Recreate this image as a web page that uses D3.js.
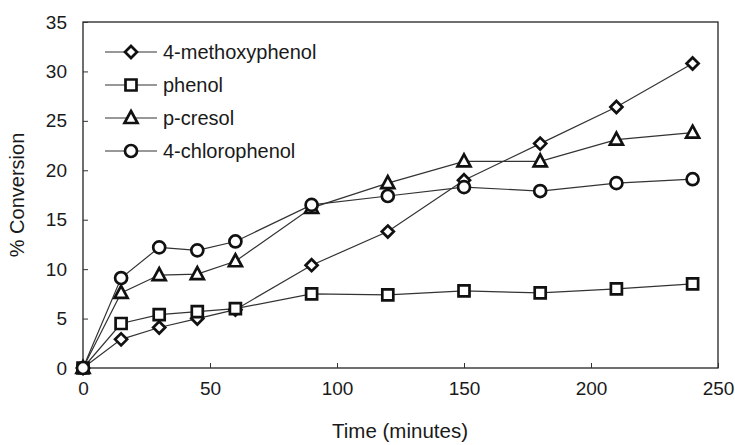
<!DOCTYPE html>
<html><head><meta charset="utf-8">
<script src="https://cdn.jsdelivr.net/npm/d3@7"></script>
<style>body{margin:0;background:#fff}svg{display:block}text{font-family:"Liberation Sans",Arial,sans-serif;fill:#1a1a1a}</style>
</head><body><svg id="c" width="735" height="445"></svg>
<script>
const times = [0,15,30,45,60,90,120,150,180,210,240];
const methoxyphenol = [0,2.9,4.1,5.0,5.9,10.4,13.8,19.0,22.7,26.4,30.8];
const phenol = [0,4.5,5.4,5.7,6.0,7.5,7.4,7.8,7.6,8.0,8.5];
const pCresol = [0,7.6,9.4,9.5,10.8,16.2,18.7,20.9,20.9,23.1,23.8];
const chlorophenol = [0,9.1,12.2,11.9,12.8,16.5,17.4,18.3,17.9,18.7,19.1];
const seriesNames = ["4-methoxyphenol","phenol","p-cresol","4-chlorophenol"];
const xTicks = [0,50,100,150,200,250];
const yTicks = [0,5,10,15,20,25,30,35];

const series = [
  {name:seriesNames[0], vals:methoxyphenol, sym:"diamond"},
  {name:seriesNames[1], vals:phenol, sym:"square"},
  {name:seriesNames[2], vals:pCresol, sym:"triangle"},
  {name:seriesNames[3], vals:chlorophenol, sym:"circle"}
];

const svg = d3.select("#c");
const L=83, R=718, T=22, B=368;
const x = d3.scaleLinear().domain([0,250]).range([L,R]);
const y = d3.scaleLinear().domain([0,35]).range([B,T]);

svg.append("rect").attr("x",L).attr("y",T).attr("width",R-L).attr("height",B-T)
  .attr("fill","none").attr("stroke","#222").attr("stroke-width",1.3);

const xAxis = svg.append("g").attr("transform",`translate(0,${B})`)
  .call(d3.axisBottom(x).tickValues(xTicks).tickSizeInner(-5).tickSizeOuter(0).tickPadding(14));
const yAxis = svg.append("g").attr("transform",`translate(${L},0)`)
  .call(d3.axisLeft(y).tickValues(yTicks).tickSizeInner(-5).tickSizeOuter(0).tickPadding(16));
[xAxis,yAxis].forEach(g=>{
  g.select(".domain").remove();
  g.selectAll("line").attr("stroke","#333").attr("stroke-width",1);
  g.selectAll("text").style("font-size","19px").attr("fill","#1a1a1a")
   .style("font-family",'"Liberation Sans",Arial,sans-serif');
});

svg.append("text").attr("x",400).attr("y",438).attr("text-anchor","middle")
  .style("font-size","20.5px").text("Time (minutes)");
svg.append("text").attr("transform",`translate(24,${(T+B)/2}) rotate(-90)`).attr("text-anchor","middle")
  .style("font-size","20px").text("% Conversion");

function marker(sym){
  if(sym==="diamond") return "M0,-6L6,0L0,6L-6,0Z";
  if(sym==="square") return "M-5.5,-5.5H5.5V5.5H-5.5Z";
  if(sym==="triangle") return "M0,-7L6.5,5L-6.5,5Z";
  return d3.arc()({innerRadius:0,outerRadius:6,startAngle:0,endAngle:2*Math.PI});
}

const line = d3.line().x((d,i)=>x(times[i])).y(d=>y(d));
series.forEach(s=>{
  svg.append("path").datum(s.vals).attr("d",line).attr("fill","none")
    .attr("stroke","#333").attr("stroke-width",1.2);
});
series.forEach(s=>{
  svg.append("g").selectAll("path").data(s.vals).join("path")
    .attr("transform",(d,i)=>`translate(${x(times[i])},${y(d)})`)
    .attr("d",marker(s.sym)).attr("fill","#fff").attr("stroke","#111").attr("stroke-width",2.7);
});

const legY = [52,85,118,151];
series.forEach((s,i)=>{
  const g = svg.append("g").attr("transform",`translate(0,${legY[i]})`);
  g.append("line").attr("x1",105).attr("x2",157).attr("y1",0).attr("y2",0).attr("stroke","#333").attr("stroke-width",1.2);
  g.append("path").attr("transform","translate(131,0)").attr("d",marker(s.sym))
    .attr("fill","#fff").attr("stroke","#111").attr("stroke-width",2.7);
  g.append("text").attr("x",163).attr("y",7).style("font-size","20px").text(s.name);
});
</script></body></html>
